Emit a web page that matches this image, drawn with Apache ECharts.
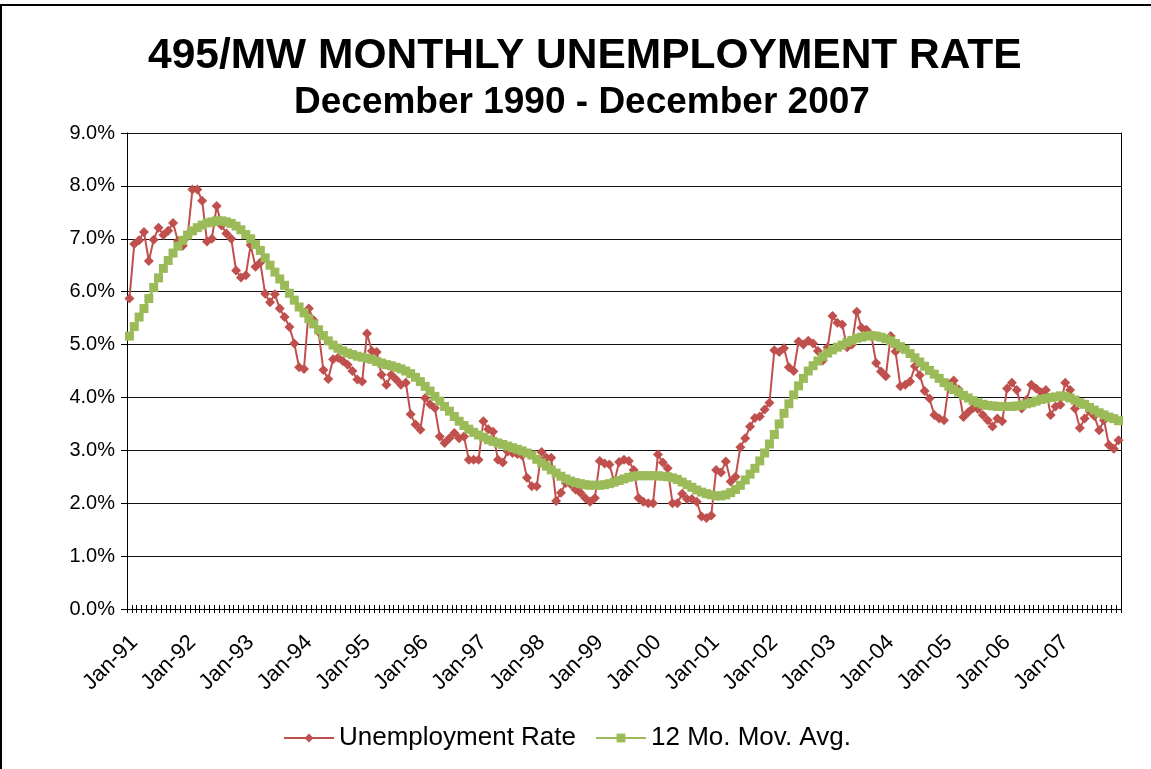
<!DOCTYPE html>
<html lang="en">
<head>
  <meta charset="UTF-8">
  <title>495/MW Monthly Unemployment Rate</title>
  <style>
    html, body { margin: 0; padding: 0; background: #fff; }
    #chart { width: 1151px; height: 769px; }
  </style>
</head>
<body>
  <div id="chart"></div>

  <script src="https://cdn.jsdelivr.net/npm/echarts@6/dist/echarts.min.js"></script>
  <script>
    // month names for the category labels (Dec-90 ... Dec-07)
    var monthNames = ['Jan', 'Feb', 'Mar', 'Apr', 'May', 'Jun', 'Jul', 'Aug', 'Sep', 'Oct', 'Nov', 'Dec'];
    var yTicks = [0, 1, 2, 3, 4, 5, 6, 7, 8, 9];

    // unemployment rate, %
    var rate1991 = [5.87, 6.90, 6.97, 7.13, 6.58, 6.98, 7.21, 7.07, 7.15, 7.30, 6.96, 6.87, 7.05]; // Dec-90 .. Dec-91
    var rate1992 = [7.93, 7.93, 7.72, 6.95, 7.00, 7.62, 7.25, 7.10, 7.00, 6.40, 6.27, 6.31];
    var rate1993 = [6.88, 6.47, 6.55, 5.96, 5.80, 5.95, 5.68, 5.52, 5.33, 5.02, 4.57, 4.54];
    var rate1994 = [5.68, 5.46, 5.24, 4.52, 4.35, 4.72, 4.75, 4.69, 4.62, 4.50, 4.34, 4.30];
    var rate1995 = [5.21, 4.88, 4.86, 4.43, 4.24, 4.43, 4.34, 4.24, 4.28, 3.68, 3.49, 3.39];
    var rate1996 = [3.99, 3.87, 3.80, 3.26, 3.14, 3.23, 3.33, 3.23, 3.26, 2.82, 2.82, 2.82];
    var rate1997 = [3.55, 3.40, 3.35, 2.82, 2.77, 2.98, 2.95, 2.93, 2.90, 2.48, 2.32, 2.32];
    var rate1998 = [2.97, 2.86, 2.86, 2.04, 2.20, 2.38, 2.36, 2.26, 2.20, 2.10, 2.03, 2.10];
    var rate1999 = [2.80, 2.75, 2.73, 2.40, 2.78, 2.82, 2.80, 2.63, 2.10, 2.03, 2.00, 2.00];
    var rate2000 = [2.92, 2.77, 2.66, 2.00, 2.00, 2.18, 2.08, 2.08, 2.03, 1.75, 1.72, 1.77];
    var rate2001 = [2.63, 2.58, 2.79, 2.41, 2.50, 3.06, 3.23, 3.45, 3.61, 3.64, 3.77, 3.90];
    var rate2002 = [4.89, 4.86, 4.93, 4.57, 4.50, 5.06, 5.00, 5.07, 5.02, 4.88, 4.70, 4.95];
    var rate2003 = [5.54, 5.41, 5.38, 4.95, 5.00, 5.62, 5.32, 5.28, 5.18, 4.65, 4.49, 4.40];
    var rate2004 = [5.16, 4.87, 4.21, 4.24, 4.30, 4.59, 4.42, 4.12, 3.98, 3.67, 3.60, 3.57];
    var rate2005 = [4.25, 4.32, 4.15, 3.63, 3.72, 3.80, 3.78, 3.67, 3.57, 3.45, 3.60, 3.55];
    var rate2006 = [4.17, 4.28, 4.14, 3.79, 3.95, 4.24, 4.17, 4.10, 4.14, 3.67, 3.83, 3.86];
    var rate2007 = [4.28, 4.14, 3.79, 3.42, 3.60, 3.74, 3.65, 3.38, 3.57, 3.10, 3.03, 3.19];

    // 12 month moving average, %
    var avg1991 = [5.16, 5.34, 5.52, 5.68, 5.87, 6.08, 6.26, 6.44, 6.59, 6.73, 6.86, 6.97, 7.07];
    var avg1992 = [7.15, 7.21, 7.26, 7.30, 7.32, 7.34, 7.34, 7.32, 7.29, 7.24, 7.17, 7.08];
    var avg1993 = [7.00, 6.89, 6.78, 6.64, 6.50, 6.37, 6.24, 6.12, 5.97, 5.84, 5.71, 5.60];
    var avg1994 = [5.49, 5.39, 5.28, 5.17, 5.07, 4.99, 4.93, 4.88, 4.84, 4.81, 4.78, 4.76];
    var avg1995 = [4.74, 4.72, 4.68, 4.65, 4.62, 4.60, 4.57, 4.54, 4.50, 4.45, 4.38, 4.30];
    var avg1996 = [4.21, 4.12, 4.02, 3.93, 3.83, 3.74, 3.64, 3.55, 3.47, 3.40, 3.34, 3.29];
    var avg1997 = [3.25, 3.20, 3.17, 3.14, 3.11, 3.08, 3.05, 3.02, 2.99, 2.95, 2.91, 2.83];
    var avg1998 = [2.76, 2.70, 2.63, 2.57, 2.51, 2.46, 2.42, 2.39, 2.37, 2.35, 2.34, 2.34];
    var avg1999 = [2.34, 2.35, 2.37, 2.40, 2.43, 2.46, 2.49, 2.51, 2.52, 2.52, 2.52, 2.52];
    var avg2000 = [2.52, 2.51, 2.50, 2.48, 2.45, 2.40, 2.35, 2.30, 2.25, 2.21, 2.18, 2.16];
    var avg2001 = [2.14, 2.14, 2.16, 2.20, 2.26, 2.34, 2.44, 2.55, 2.66, 2.80, 2.95, 3.12];
    var avg2002 = [3.30, 3.50, 3.70, 3.88, 4.05, 4.22, 4.36, 4.50, 4.60, 4.69, 4.77, 4.84];
    var avg2003 = [4.90, 4.95, 4.99, 5.04, 5.08, 5.12, 5.14, 5.16, 5.17, 5.16, 5.14, 5.11];
    var avg2004 = [5.07, 5.02, 4.96, 4.91, 4.83, 4.75, 4.67, 4.59, 4.51, 4.44, 4.36, 4.28];
    var avg2005 = [4.21, 4.15, 4.10, 4.04, 3.99, 3.94, 3.90, 3.87, 3.85, 3.84, 3.83, 3.83];
    var avg2006 = [3.83, 3.83, 3.84, 3.85, 3.88, 3.90, 3.93, 3.96, 3.98, 4.00, 4.01, 4.03];
    var avg2007 = [4.02, 3.99, 3.95, 3.90, 3.87, 3.81, 3.76, 3.71, 3.67, 3.63, 3.60, 3.56];

    var rateData = [].concat(rate1991, rate1992, rate1993, rate1994, rate1995, rate1996, rate1997, rate1998,
      rate1999, rate2000, rate2001, rate2002, rate2003, rate2004, rate2005, rate2006, rate2007);
    var avgData = [].concat(avg1991, avg1992, avg1993, avg1994, avg1995, avg1996, avg1997, avg1998,
      avg1999, avg2000, avg2001, avg2002, avg2003, avg2004, avg2005, avg2006, avg2007);

    var months = ['Dec-90'];
    for (var y = 1991; y <= 2007; y++) {
      monthNames.forEach(function (m) { months.push(m + '-' + String(y).slice(2)); });
    }

    var font = 'Liberation Sans, Arial, sans-serif';
    var chart = echarts.init(document.getElementById('chart'));

    chart.setOption({
      animation: false,
      backgroundColor: '#fff',
      title: [
        {
          text: '495/MW MONTHLY UNEMPLOYMENT RATE',
          left: 143, top: 30,
          textStyle: { fontFamily: font, fontSize: 42.5, fontWeight: 'bold', color: '#000' }
        },
        {
          text: 'December 1990 - December 2007',
          left: 289, top: 79,
          textStyle: { fontFamily: font, fontSize: 37, fontWeight: 'bold', color: '#000' }
        }
      ],
      legend: [
        {
          bottom: 13, left: 278,
          itemWidth: 50, itemHeight: 11,
          textStyle: { fontFamily: font, fontSize: 26, color: '#000' },
          data: ['Unemployment Rate']
        },
        {
          bottom: 13, left: 590,
          itemWidth: 50, itemHeight: 11,
          textStyle: { fontFamily: font, fontSize: 26, color: '#000' },
          data: ['12 Mo. Mov. Avg.']
        }
      ],
      grid: { left: 127, right: 30, top: 133, bottom: 160 },
      xAxis: [
        {
          type: 'category',
          data: months,
          boundaryGap: true,
          axisLine: { lineStyle: { color: '#000', width: 1 } },
          axisTick: { show: true, interval: 0, length: 4, lineStyle: { color: '#000', width: 1 } },
          axisLabel: {
            interval: function (i) { return i % 12 === 1; },
            rotate: 45, margin: 30,
            fontFamily: font, fontSize: 22, color: '#000'
          }
        },
        {
          type: 'category',
          data: months,
          position: 'bottom',
          boundaryGap: true,
          axisLine: { show: false },
          axisTick: { show: true, interval: 0, inside: true, length: 4, lineStyle: { color: '#000', width: 1 } },
          axisLabel: { show: false }
        }
      ],
      yAxis: [
        {
          type: 'value',
          min: yTicks[0], max: yTicks[yTicks.length - 1], interval: 1,
          axisLine: { show: true, lineStyle: { color: '#000' } },
          axisTick: { show: true, length: 6, lineStyle: { color: '#000' } },
          splitLine: { lineStyle: { color: '#111', width: 1 } },
          axisLabel: {
            margin: 12,
            fontFamily: font, fontSize: 20, color: '#000',
            formatter: function (v) { return v.toFixed(1) + '%'; }
          }
        },
        {
          type: 'value', position: 'right',
          min: yTicks[0], max: yTicks[yTicks.length - 1], interval: 1,
          axisLine: { show: true, lineStyle: { color: '#000' } },
          axisTick: { show: false }, axisLabel: { show: false }, splitLine: { show: false }
        }
      ],
      series: [
        {
          name: 'Unemployment Rate',
          type: 'line',
          data: rateData,
          showAllSymbol: true,
          symbol: 'diamond', symbolSize: 10,
          itemStyle: { color: '#C0504D' },
          lineStyle: { color: '#C0504D', width: 2 },
          z: 3
        },
        {
          name: '12 Mo. Mov. Avg.',
          type: 'line',
          data: avgData,
          showAllSymbol: true,
          symbol: 'rect', symbolSize: 9,
          itemStyle: { color: '#9BBB59' },
          lineStyle: { color: '#9BBB59', width: 3 },
          z: 4
        }
      ],
      graphic: [
        {
          type: 'rect', silent: true,
          shape: { x: 1, y: 5, width: 1200, height: 800 },
          style: { fill: 'none', stroke: '#000', lineWidth: 2 }
        }
      ]
    });
  </script>
</body>
</html>
